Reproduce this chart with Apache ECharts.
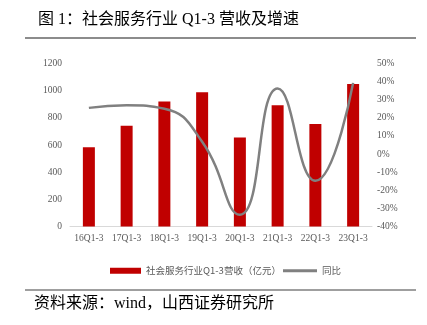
<!DOCTYPE html>
<html><head><meta charset="utf-8">
<script src="https://cdn.jsdelivr.net/npm/echarts@6/dist/echarts.min.js"></script>
<style>html,body{margin:0;padding:0;background:#fff}#c{width:427px;height:325px}</style>
</head><body><div id="c"></div>
<script>
const categories = ['16Q1-3','17Q1-3','18Q1-3','19Q1-3','20Q1-3','21Q1-3','22Q1-3','23Q1-3'];
const revenue = [584, 741, 921, 989, 656, 893, 754, 1050];
const yoy = [25.5, 26.9, 25.0, 6.8, -33.5, 36.2, -14.8, 39.3];
const leftTicks = [0, 1200, 200];
const rightTicks = [-40, 50, 10];
const barName = '社会服务行业Q1-3营收（亿元）';
const lineName = '同比';

const chart = echarts.init(document.getElementById('c'));
const labelFont = {color:'#595959', fontSize:9.5, fontFamily:'Liberation Serif, Noto Sans CJK SC'};
chart.setOption({
  animation:false,
  title:{text:'图 1：社会服务行业 Q1-3 营收及增速', left:33, top:7,
    textStyle:{fontSize:16, fontWeight:'normal', color:'#000', fontFamily:'Liberation Serif, Noto Sans CJK SC'}},
  graphic:[
    {type:'rect', shape:{x:25,y:37,width:391,height:2}, style:{fill:'#8c8c8c'}},
    {type:'rect', shape:{x:25,y:289.5,width:391,height:1}, style:{fill:'#404040'}},
    {type:'text', left:34, top:296, style:{text:'资料来源：wind，山西证券研究所', fontSize:16, fill:'#000', fontFamily:'Liberation Serif, Noto Sans CJK SC'}}
  ],
  grid:{left:70, right:55, top:63.5, bottom:98.5},
  legend:[
    {data:[{name:barName, icon:'rect'}], left:105, top:261, itemWidth:31, itemHeight:6, itemGap:5,
      textStyle:{color:'#595959', fontSize:9.5, fontFamily:'Noto Sans CJK SC'}},
    {data:[{name:lineName, icon:'rect'}], left:278, top:261, itemWidth:34, itemHeight:3,
      textStyle:{color:'#595959', fontSize:9.5, fontFamily:'Noto Sans CJK SC'}}
  ],
  xAxis:{type:'category', data:categories,
    axisLine:{lineStyle:{color:'#d9d9d9'}}, axisTick:{show:false},
    axisLabel:Object.assign({margin:7, interval:0}, labelFont)},
  yAxis:[
    {type:'value', min:leftTicks[0], max:leftTicks[1], interval:leftTicks[2],
     splitLine:{show:false}, axisLine:{show:false}, axisTick:{show:false},
     axisLabel:Object.assign({margin:8, formatter:function(v){return String(v);}}, labelFont)},
    {type:'value', min:rightTicks[0], max:rightTicks[1], interval:rightTicks[2],
     splitLine:{show:false}, axisLine:{show:false}, axisTick:{show:false},
     axisLabel:Object.assign({margin:5, formatter:'{value}%'}, labelFont)}
  ],
  series:[
    {name:barName, type:'bar', data:revenue, barWidth:12, itemStyle:{color:'#c00000'}},
    {name:lineName, type:'line', yAxisIndex:1, data:yoy, smooth:0.5, symbol:'none',
     lineStyle:{color:'#808080', width:2.5}, itemStyle:{color:'#808080'}}
  ]
});
</script></body></html>
